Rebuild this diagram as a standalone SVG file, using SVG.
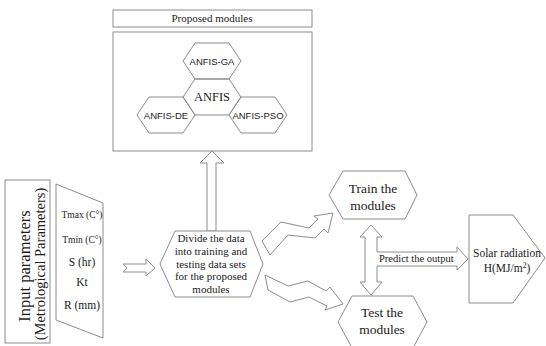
<svg xmlns="http://www.w3.org/2000/svg" width="546" height="346" viewBox="0 0 546 346">
<style>
.s{fill:#fff;stroke:#8c8c8c;stroke-width:1}
.t{font-family:"Liberation Serif","Times New Roman",serif;fill:#1a1a1a;text-anchor:middle}
.a{font-family:"Liberation Sans",Arial,sans-serif;fill:#1a1a1a;text-anchor:middle}
</style>
<rect width="546" height="346" fill="#fff"/>
<g id="connectors">
<polygon class="s" points="212,151 224,163 216,163 216,231 207,231 207,163 200,163"/>
<polygon class="s" points="123,264 146,264 146,259 155,268 146,276 146,272 123,272 127,268"/>
<polygon class="s" points="262,241 281,222 309,228 318,219 314,216 333,213 328,233 324,229 315,238 288,235 270,255"/>
<polygon class="s" points="265,275 288,286 308,281 326,291 330,287 343,304 325,310 327,306 309,297 290,302 268,290"/>
<polygon class="s" points="371,225 382,237 377,237 377,252 457,252 457,247 468,259 457,270 457,266 377,266 377,282 382,282 371,295 360,282 365,282 365,237 360,237"/>
<text class="t" x="379" y="262" style="text-anchor:start;font-size:10.5px">Predict the output</text>
</g>
<g id="proposed-title">
<rect class="s" x="113" y="10" width="199" height="17"/>
<text class="t" x="212" y="22" style="font-size:11px">Proposed modules</text>
</g>
<g id="proposed-modules">
<rect class="s" x="113" y="32" width="199" height="119"/>
</g>
<g id="anfis-ga">
<polygon class="s" points="183,61 195,43 229,43 241,61 229,79 195,79"/>
<text class="a" x="212" y="65" style="font-size:9.5px">ANFIS-GA</text>
</g>
<g id="anfis-de">
<polygon class="s" points="137,115 149,97 183,97 195,115 183,133 149,133"/>
<text class="a" x="166" y="119" style="font-size:9.5px">ANFIS-DE</text>
</g>
<g id="anfis-pso">
<polygon class="s" points="229,115 241,97 275,97 287,115 275,133 241,133"/>
<text class="a" x="258" y="119" style="font-size:9.5px">ANFIS-PSO</text>
</g>
<g id="anfis">
<polygon class="s" points="183,97 195,79 229,79 241,97 229,115 195,115" style="fill:none"/>
<text class="t" x="212" y="101" style="font-size:12.5px">ANFIS</text>
</g>
<g id="input-parameters">
<rect class="s" x="5" y="180" width="45" height="163"/>
<text class="t" transform="translate(30,266) rotate(-90)" style="font-size:16.5px">Input parameters</text>
<text class="t" transform="translate(45,264) rotate(-90)" style="font-size:14.5px">(Metrological Parameters)</text>
</g>
<g id="parameters">
<polygon class="s" points="56,184 103,203 103,338 56,320"/>
<text class="t" x="82" y="218" style="font-size:9.5px">Tmax (C°)</text>
<text class="t" x="82" y="243" style="font-size:9.5px">Tmin (C°)</text>
<text class="t" x="82" y="266" style="font-size:11.5px">S (hr)</text>
<text class="t" x="82" y="286" style="font-size:11.5px">Kt</text>
<text class="t" x="82" y="309" style="font-size:11.5px">R (mm)</text>
</g>
<g id="divide">
<polygon class="s" points="160,264 175,231 250,231 263,264 250,297 175,297"/>
<text class="t" style="font-size:11px"><tspan x="211" y="242">Divide the data</tspan><tspan x="211" y="255">into training and</tspan><tspan x="211" y="267.5">testing data sets</tspan><tspan x="211" y="280">for the proposed</tspan><tspan x="211" y="292.5">modules</tspan></text>
</g>
<g id="train">
<polygon class="s" points="329,195 343,171 405,171 417,195 405,219 343,219"/>
<text class="t" style="font-size:13.5px"><tspan x="373" y="193">Train the</tspan><tspan x="373" y="210">modules</tspan></text>
</g>
<g id="test">
<polygon class="s" points="338,322 352,296 413,296 427,322 413,348 352,348"/>
<text class="t" style="font-size:13.5px"><tspan x="382" y="317">Test the</tspan><tspan x="382" y="334">modules</tspan></text>
</g>
<g id="solar">
<polygon class="s" points="469,215 513,215 545,258 513,303 469,303"/>
<text class="t" style="font-size:11.5px"><tspan x="507" y="257">Solar radiation</tspan><tspan x="507" y="272">H(MJ/m<tspan dy="-4" style="font-size:7.5px">2</tspan><tspan dy="4">)</tspan></tspan></text>
</g>
</svg>
